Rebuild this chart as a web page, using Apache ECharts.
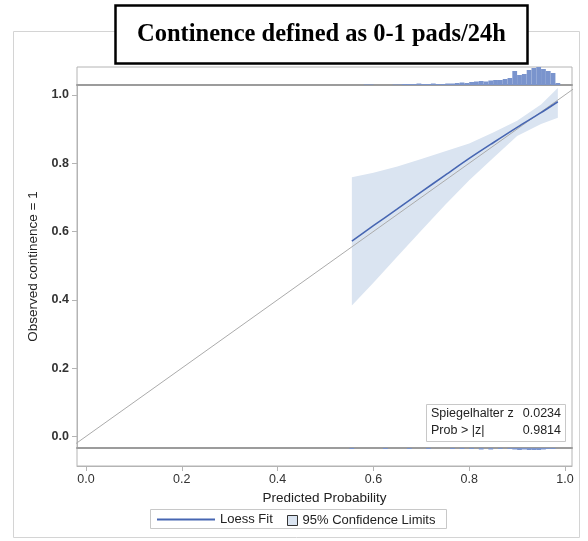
<!DOCTYPE html>
<html>
<head>
<meta charset="utf-8">
<script src="https://cdn.jsdelivr.net/npm/echarts@6/dist/echarts.min.js"></script>
<style>
html,body{margin:0;padding:0;background:#fff;}
#chart{width:588px;height:541px;}
</style>
</head>
<body>
<div id="chart"></div>
<script>
// ---- Data ----
const titleText = 'Continence defined as 0-1 pads/24h';
const xTicks = [0.0, 0.2, 0.4, 0.6, 0.8, 1.0];
const yTicks = [0.0, 0.2, 0.4, 0.6, 0.8, 1.0];

// Loess fit
const loessX = [0.555, 0.60, 0.65, 0.70, 0.75, 0.80, 0.85, 0.90, 0.95, 0.985];
const loessY = [0.572, 0.617, 0.666, 0.716, 0.765, 0.814, 0.860, 0.905, 0.948, 0.980];

// 95% confidence limits
const ciX     = [0.555, 0.60, 0.65, 0.70, 0.75, 0.80, 0.85, 0.90, 0.95, 0.985];
const ciUpper = [0.759, 0.772, 0.790, 0.812, 0.835, 0.858, 0.890, 0.924, 0.972, 1.020];
const ciLower = [0.383, 0.450, 0.527, 0.603, 0.678, 0.750, 0.815, 0.880, 0.915, 0.933];

// Reference diagonal (perfect calibration)
const refLine = [[-0.05, -0.05], [1.05, 1.05]];

// Histogram of predicted probabilities (bin starts, width 0.01)
const binWidth = 0.01;
const binStarts = [0.55,0.56,0.57,0.58,0.59,0.60,0.61,0.62,0.63,0.64,0.65,0.66,0.67,0.68,0.69,0.70,0.71,0.72,0.73,0.74,0.75,0.76,0.77,0.78,0.79,0.80,0.81,0.82,0.83,0.84,0.85,0.86,0.87,0.88,0.89,0.90,0.91,0.92,0.93,0.94,0.95,0.96,0.97,0.98];
// observed = 1 (top strip)
const countsEvent = [0,0,0,0.5,0.5,0,0,0,0,0.5,0.5,1,1,1,1.5,1,1,1.5,1,1,1.5,1.5,2,2.5,2,3,3.5,4,3.5,4.5,5,5,6,7,14,10,11,15,17,18,16,14,12,2];
// observed = 0 (bottom strip)
const countsNonEvent = [1,0,0,0,0,0,0,1,0,0,0,0,1,0,0,0,1,0,0,0,0,1,0,1,0,1,0,1.5,0,1.5,0,1,0,1,1.5,2,1.5,2,2,2,1.5,1,1,0];

// Statistics
const statLabels = ['Spiegelhalter z', 'Prob > |z|'];
const statValues = ['0.0234', '0.9814'];

// ---- Styles ----
const FONT = 'Liberation Sans, Arial, sans-serif';
const fitColor = '#4766b2';
const bandColor = '#dae4f1';
const histColor = '#7a94cd';
const borderGray = '#b4b4b4';
const sepGray = '#9c9c9c';
const XMIN = -0.0188, XMAX = 1.0146;
const YMIN = -0.034, YMAX = 1.029;

const chart = echarts.init(document.getElementById('chart'), null, {renderer: 'canvas'});

function histItem(fill) {
  return function (params, api) {
    const x0 = api.value(0), c = api.value(1);
    if (!c) return null;
    const p0 = api.coord([x0, 0]);
    const p1 = api.coord([x0 + binWidth, c]);
    return {
      type: 'rect',
      shape: {x: p0[0], y: Math.min(p0[1], p1[1]), width: p1[0] - p0[0], height: Math.abs(p1[1] - p0[1])},
      style: {fill: fill}
    };
  };
}

const gridCommon = {left: 77, width: 495, show: true, borderColor: borderGray, borderWidth: 1, backgroundColor: 'transparent', containLabel: false};

const option = {
  animation: false,
  backgroundColor: '#fff',
  title: {
    text: titleText,
    left: 115, top: 5,
    padding: [15, 22],
    borderColor: '#000', borderWidth: 2.5,
    backgroundColor: '#fff',
    textStyle: {fontFamily: 'Liberation Serif, Times New Roman, serif', fontWeight: 'bold', fontSize: 24.5, color: '#000', lineHeight: 29}
  },
  graphic: [
    {type: 'rect', z: -10, shape: {x: 13.5, y: 31.5, width: 566, height: 506}, style: {fill: 'none', stroke: '#d4d4d4', lineWidth: 1}},
    {type: 'rect', z: 5, shape: {x: 150.5, y: 509.5, width: 296, height: 19}, style: {fill: 'none', stroke: '#c8c8c8', lineWidth: 1}},
    {type: 'group', left: 426, top: 404, z: 10, children: [
      {type: 'rect', shape: {x: 0.5, y: 0.5, width: 139, height: 37}, style: {fill: '#fff', stroke: '#c8c8c8', lineWidth: 1}},
      {type: 'text', x: 5, y: 10, style: {text: statLabels[0], font: '12.5px ' + FONT, fill: '#222', verticalAlign: 'middle'}},
      {type: 'text', x: 135, y: 10, style: {text: statValues[0], font: '12.5px ' + FONT, fill: '#222', align: 'right', verticalAlign: 'middle'}},
      {type: 'text', x: 5, y: 27, style: {text: statLabels[1], font: '12.5px ' + FONT, fill: '#222', verticalAlign: 'middle'}},
      {type: 'text', x: 135, y: 27, style: {text: statValues[1], font: '12.5px ' + FONT, fill: '#222', align: 'right', verticalAlign: 'middle'}}
    ]}
  ],
  legend: [
    {
      left: 157, top: 513, itemWidth: 58, itemHeight: 2, itemGap: 10, padding: 0,
      selectedMode: false,
      textStyle: {fontFamily: FONT, fontSize: 13, color: '#222'},
      data: [{name: 'Loess Fit', icon: 'rect', itemStyle: {color: fitColor}}]
    },
    {
      left: 287, top: 514, itemWidth: 10, itemHeight: 10, padding: 0,
      selectedMode: false,
      textStyle: {fontFamily: FONT, fontSize: 13, color: '#222'},
      data: [{name: '95% Confidence Limits', icon: 'rect', itemStyle: {color: bandColor, borderColor: '#333', borderWidth: 1}}]
    }
  ],
  grid: [
    Object.assign({}, gridCommon, {top: 67, height: 18}),
    Object.assign({}, gridCommon, {top: 85, height: 363}),
    Object.assign({}, gridCommon, {top: 448, height: 18})
  ],
  xAxis: [
    {gridIndex: 0, type: 'value', min: XMIN, max: XMAX, position: 'bottom',
     axisLine: {show: true, onZero: false, lineStyle: {color: sepGray, width: 2}},
     axisTick: {show: false}, axisLabel: {show: false}, splitLine: {show: false}},
    {gridIndex: 1, type: 'value', min: XMIN, max: XMAX, position: 'bottom',
     axisLine: {show: true, onZero: false, lineStyle: {color: sepGray, width: 2}},
     axisTick: {show: false}, axisLabel: {show: false}, splitLine: {show: false}},
    {gridIndex: 2, type: 'value', min: XMIN, max: XMAX, position: 'bottom',
     name: 'Predicted Probability', nameLocation: 'middle', nameGap: 25,
     nameTextStyle: {fontFamily: FONT, fontSize: 13.5, color: '#222'},
     axisLine: {show: true, onZero: false, lineStyle: {color: borderGray, width: 1}},
     axisTick: {show: true, length: 5, lineStyle: {color: borderGray}, customValues: xTicks},
     axisLabel: {show: true, margin: 7, fontFamily: FONT, fontSize: 12.5, color: '#333', customValues: xTicks, formatter: v => v.toFixed(1)},
     splitLine: {show: false}}
  ],
  yAxis: [
    {gridIndex: 0, type: 'value', min: 0, max: 18, show: false},
    {gridIndex: 1, type: 'value', min: YMIN, max: YMAX,
     name: 'Observed continence = 1', nameLocation: 'middle', nameGap: 37, nameRotate: 90,
     nameTextStyle: {fontFamily: FONT, fontSize: 13.5, color: '#222'},
     axisLine: {show: true, onZero: false, lineStyle: {color: borderGray, width: 1}},
     axisTick: {show: true, length: 5, lineStyle: {color: borderGray}, customValues: yTicks},
     axisLabel: {show: true, margin: 8, fontFamily: FONT, fontSize: 12.5, fontWeight: 'bold', color: '#333', customValues: yTicks, formatter: v => v.toFixed(1)},
     splitLine: {show: false}},
    {gridIndex: 2, type: 'value', min: 0, max: 18, inverse: true, show: false}
  ],
  series: [
    {
      name: '95% Confidence Limits', type: 'custom', xAxisIndex: 1, yAxisIndex: 1, clip: true, z: 1,
      itemStyle: {color: bandColor},
      data: ciX.map((x, i) => [x, ciLower[i], ciUpper[i]]),
      renderItem: function (params, api) {
        if (params.dataIndex !== 0) return null;
        const pts = [];
        for (let i = 0; i < ciX.length; i++) pts.push(api.coord([ciX[i], ciUpper[i]]));
        for (let i = ciX.length - 1; i >= 0; i--) pts.push(api.coord([ciX[i], ciLower[i]]));
        return {type: 'polygon', shape: {points: pts}, style: {fill: bandColor}};
      }
    },
    {
      type: 'line', xAxisIndex: 1, yAxisIndex: 1, data: refLine, showSymbol: false, symbol: 'none',
      lineStyle: {color: '#ababab', width: 1}, z: 2, silent: true
    },
    {
      name: 'Loess Fit', type: 'line', xAxisIndex: 1, yAxisIndex: 1,
      data: loessX.map((x, i) => [x, loessY[i]]), showSymbol: false, symbol: 'none', smooth: 0.3,
      lineStyle: {color: fitColor, width: 1.6}, itemStyle: {color: fitColor}, z: 3
    },
    {
      type: 'custom', xAxisIndex: 0, yAxisIndex: 0, clip: true,
      data: binStarts.map((x, i) => [x, countsEvent[i]]),
      renderItem: histItem(histColor)
    },
    {
      type: 'custom', xAxisIndex: 2, yAxisIndex: 2, clip: true,
      data: binStarts.map((x, i) => [x, countsNonEvent[i]]),
      renderItem: histItem(histColor)
    }
  ]
};
chart.setOption(option);
</script>
</body>
</html>
